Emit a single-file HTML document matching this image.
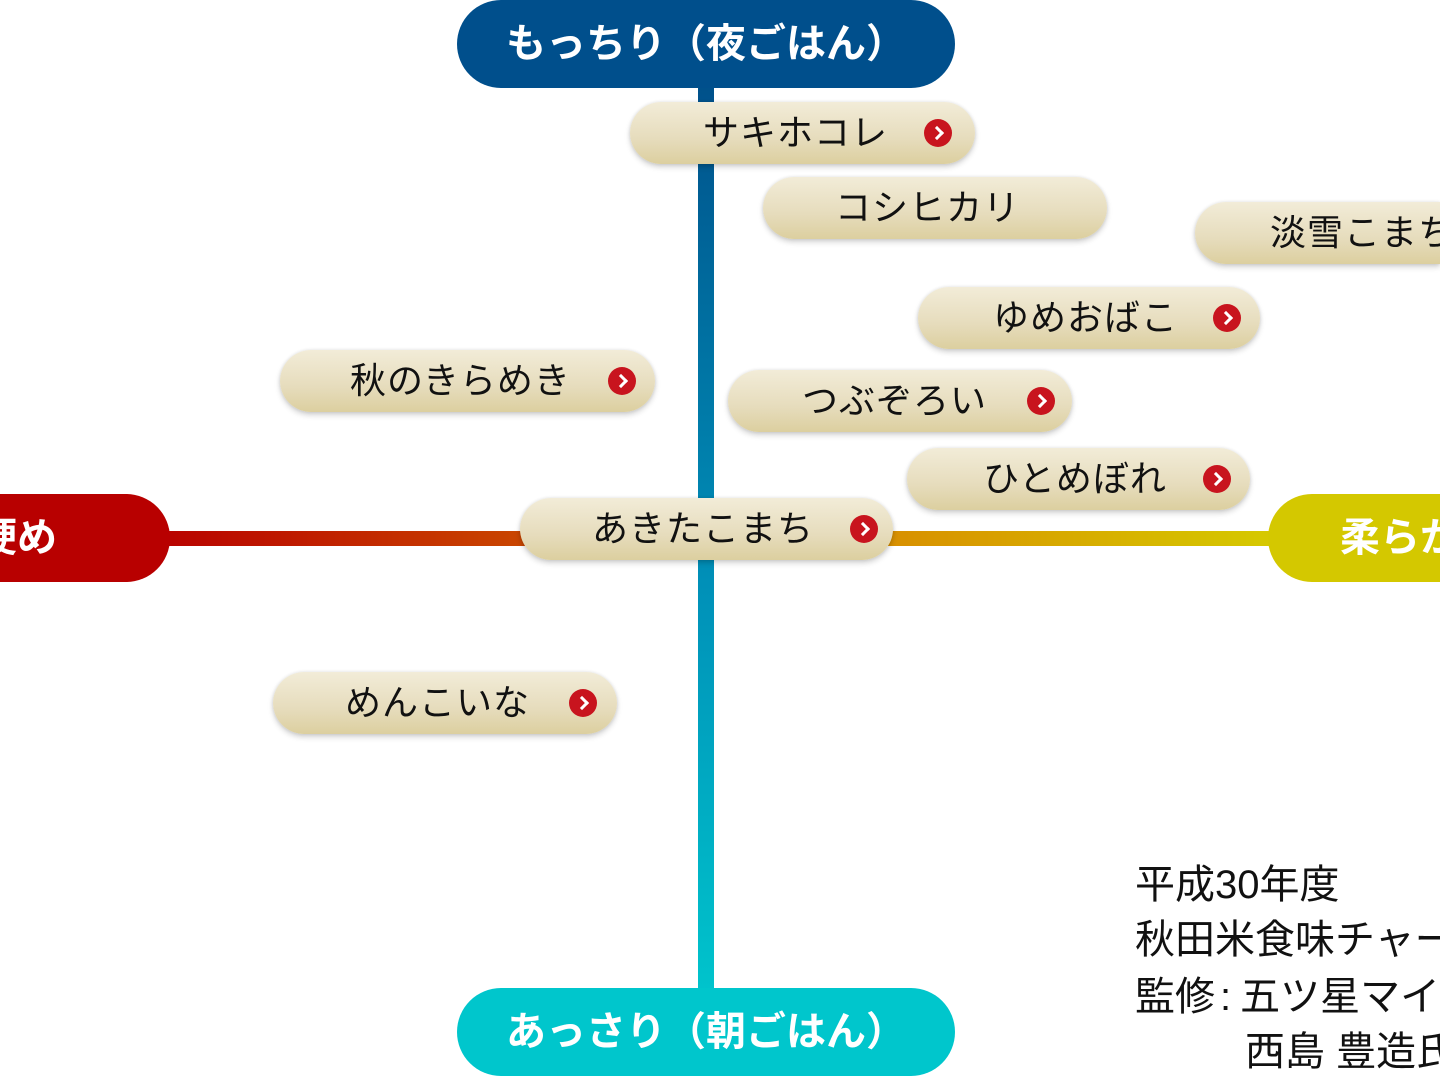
<!DOCTYPE html>
<html><head><meta charset="utf-8"><style>
html,body{margin:0;padding:0;width:1440px;height:1080px;overflow:hidden;background:#fff;position:relative;
font-family:"Liberation Sans","Noto Sans CJK JP",sans-serif;}
.abs{position:absolute}
.v{left:698px;top:80px;width:16px;height:915px;background:linear-gradient(#00508a,#0090b8 55%,#00c4cc);}
.h{left:150px;top:531px;width:1140px;height:15px;background:linear-gradient(90deg,#b80000,#c84000 30%,#d89000 65%,#d6cc00);}
.lab{position:absolute;height:88px;border-radius:44px;color:#fff;font-weight:bold;font-size:40px;line-height:88px;white-space:nowrap;overflow:hidden}
.pill{position:absolute;height:62px;border-radius:31px;background:linear-gradient(#f2ecd8,#e6dcbc 60%,#dccf9f);
box-shadow:0 3px 6px rgba(0,0,0,.18),0 0 3px rgba(0,0,0,.1);font-size:36px;line-height:62px;color:#111;white-space:nowrap;letter-spacing:1px;overflow:hidden}
.pill span{position:absolute;top:0}
.ic{position:absolute;width:28px;height:28px;border-radius:50%;background:#c8141e;top:17px;}
.ic:after{content:"";position:absolute;left:8px;top:9px;width:7px;height:7px;border-top:3px solid #fff;border-right:3px solid #fff;transform:rotate(45deg);}
.note{position:absolute;left:1135px;font-size:40px;color:#111;white-space:nowrap;line-height:40px}
</style></head><body>
<div class="abs v"></div>
<div class="abs h"></div>
<div class="lab" style="left:457px;top:0;width:498px;background:#004f8c;text-align:center;">もっちり（夜ごはん）</div>
<div class="lab" style="left:457px;top:988px;width:498px;background:#00c6cc;text-align:center;">あっさり（朝ごはん）</div>
<div class="lab" style="left:-100px;top:494px;width:270px;background:#b80000;"><span style="position:absolute;left:77px">硬め</span></div>
<div class="lab" style="left:1268px;top:494px;width:172px;border-radius:44px 0 0 44px;background:#d4c800;"><span style="position:absolute;left:72px">柔らか</span></div>

<div class="pill" style="left:630px;top:102px;width:345px"><span style="left:73px">サキホコレ</span><i class="ic" style="left:294px"></i></div>
<div class="pill" style="left:763px;top:177px;width:344px"><span style="left:72px">コシヒカリ</span></div>
<div class="pill" style="left:1195px;top:202px;width:245px;border-radius:31px 0 0 31px"><span style="left:75px">淡雪こまち</span></div>
<div class="pill" style="left:918px;top:287px;width:342px"><span style="left:75px">ゆめおばこ</span><i class="ic" style="left:295px"></i></div>
<div class="pill" style="left:280px;top:350px;width:375px"><span style="left:70px">秋のきらめき</span><i class="ic" style="left:328px"></i></div>
<div class="pill" style="left:728px;top:370px;width:344px"><span style="left:74px">つぶぞろい</span><i class="ic" style="left:299px"></i></div>
<div class="pill" style="left:907px;top:448px;width:343px"><span style="left:76px">ひとめぼれ</span><i class="ic" style="left:296px"></i></div>
<div class="pill" style="left:520px;top:498px;width:373px"><span style="left:72px">あきたこまち</span><i class="ic" style="left:330px"></i></div>
<div class="pill" style="left:273px;top:672px;width:344px"><span style="left:72px">めんこいな</span><i class="ic" style="left:296px"></i></div>

<div class="note" style="top:865px">平成30年度</div>
<div class="note" style="top:920px">秋田米食味チャート</div>
<div class="note" style="top:977px">監修<span style="margin:0 9px 0 5px">:</span>五ツ星マイスター</div>
<div class="note" style="top:1032px;left:1245px">西島 豊造氏</div>
</body></html>
